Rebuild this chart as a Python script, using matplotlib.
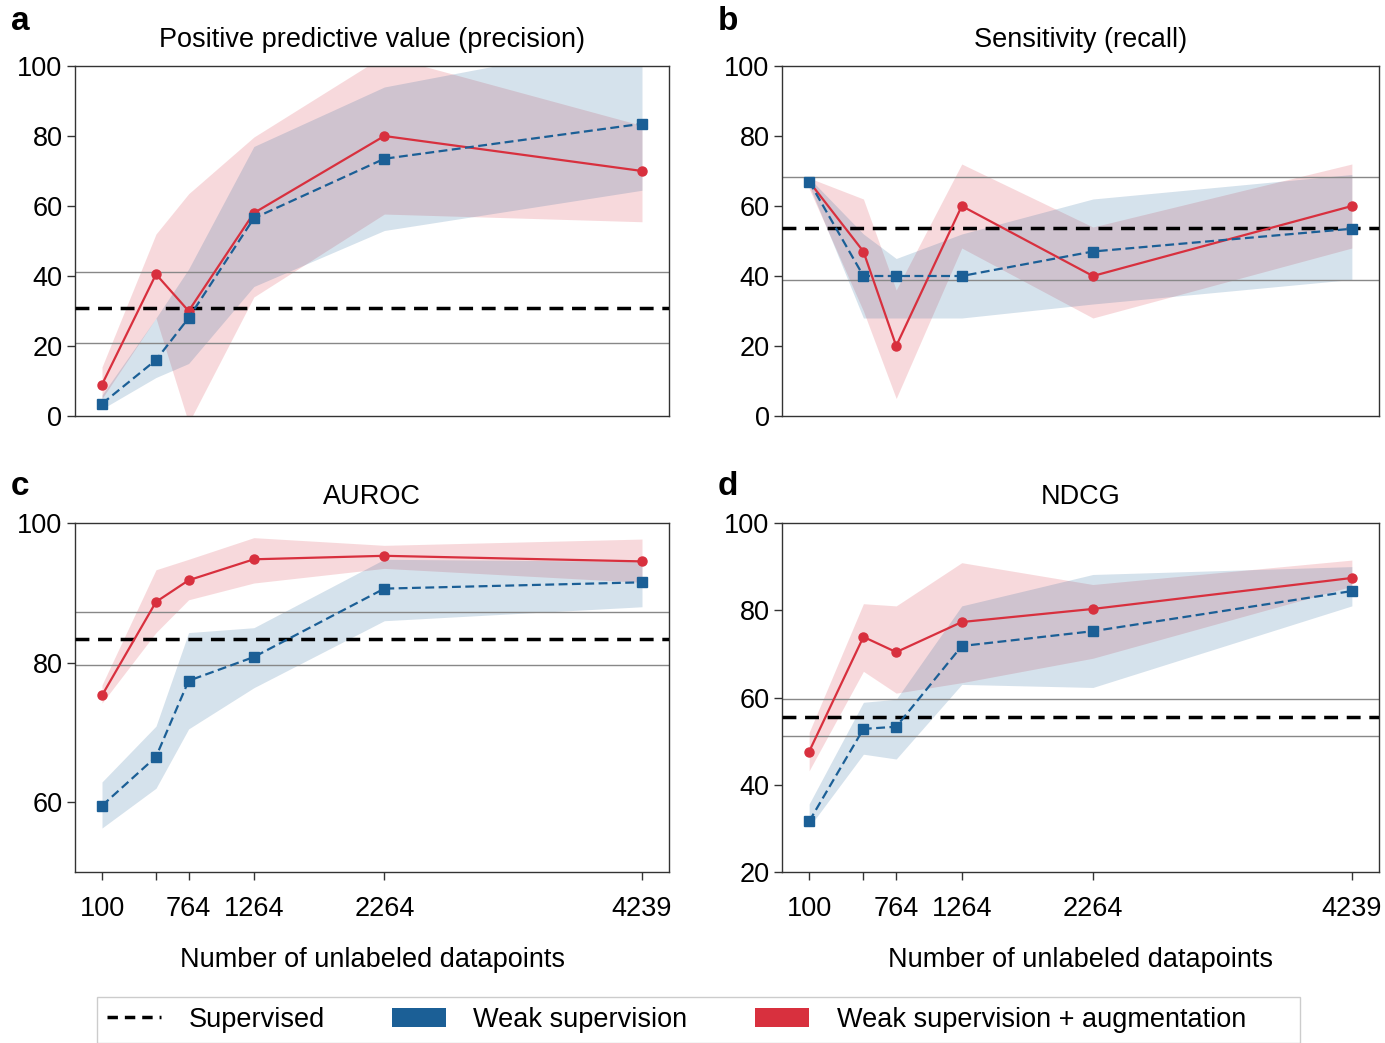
import matplotlib
matplotlib.use("Agg")
import matplotlib.pyplot as plt
from matplotlib.lines import Line2D
from matplotlib.patches import Patch, Rectangle

plt.rcParams['font.family'] = ['Liberation Sans', 'DejaVu Sans']

x_vals = [100, 514, 764, 1264, 2264, 4239]
x_tick_labels = ['100', '', '764', '1264', '2264', '4239']

titles = ['Positive predictive value (precision)', 'Sensitivity (recall)', 'AUROC', 'NDCG']
letters = ['a', 'b', 'c', 'd']

# Weak supervision (blue)
ws_ppv = [3.5, 16, 28, 56.5, 73.5, 83.5]
ws_ppv_lo = [2, 11, 15, 37, 53, 64.5]
ws_ppv_hi = [6, 28, 42, 77, 94, 108]
ws_sens = [67, 40, 40, 40, 47, 53.5]
ws_sens_lo = [66, 28, 28, 28, 32, 39]
ws_sens_hi = [68, 52, 45, 52, 62, 69]
ws_auroc = [59.5, 66.5, 77.4, 80.8, 90.6, 91.5]
ws_auroc_lo = [56.3, 62, 70.5, 76.4, 86, 88]
ws_auroc_hi = [62.9, 70.9, 84.3, 85, 94.8, 94.5]
ws_ndcg = [31.6, 52.8, 53.3, 71.8, 75.2, 84.4]
ws_ndcg_lo = [30.3, 47, 45.9, 63, 62.3, 81]
ws_ndcg_hi = [35.6, 58.9, 59.6, 81, 88.2, 90]

# Weak supervision + augmentation (red)
wsa_ppv = [9, 40.5, 30, 58, 80, 70]
wsa_ppv_lo = [5, 28, -2, 34, 57.7, 55.5]
wsa_ppv_hi = [14, 52, 63.5, 79.7, 103, 83]
wsa_sens = [67, 47, 20, 60, 40, 60]
wsa_sens_lo = [65, 30, 5, 48, 28, 48]
wsa_sens_hi = [68, 62, 36, 72, 54, 72]
wsa_auroc = [75.3, 88.7, 91.8, 94.8, 95.3, 94.5]
wsa_auroc_lo = [74.2, 84.3, 89, 91.4, 93.5, 91.5]
wsa_auroc_hi = [76.8, 93.3, 94.8, 97.9, 96.8, 97.7]
wsa_ndcg = [47.6, 73.9, 70.4, 77.3, 80.3, 87.4]
wsa_ndcg_lo = [43.2, 66, 61, 63.4, 69, 85.5]
wsa_ndcg_hi = [52, 81.5, 81, 90.9, 85.9, 91.5]

# Supervised baseline: mean and +/- band
sup_mean = [30.9, 53.6, 83.45, 55.5]
sup_lo = [20.9, 38.9, 79.6, 51.2]
sup_hi = [41.1, 68.3, 87.3, 59.7]

ylims = [(0, 100), (0, 100), (50, 100), (20, 100)]
yticks = [[0, 20, 40, 60, 80, 100], [0, 20, 40, 60, 80, 100], [60, 80, 100], [20, 40, 60, 80, 100]]

ws = [(ws_ppv, ws_ppv_lo, ws_ppv_hi), (ws_sens, ws_sens_lo, ws_sens_hi),
      (ws_auroc, ws_auroc_lo, ws_auroc_hi), (ws_ndcg, ws_ndcg_lo, ws_ndcg_hi)]
wsa = [(wsa_ppv, wsa_ppv_lo, wsa_ppv_hi), (wsa_sens, wsa_sens_lo, wsa_sens_hi),
       (wsa_auroc, wsa_auroc_lo, wsa_auroc_hi), (wsa_ndcg, wsa_ndcg_lo, wsa_ndcg_hi)]

BLUE = '#1b5f96'
RED = '#d8303e'
SPINE = '#333333'
FS = 19.5

fig = plt.figure(figsize=(13.85, 10.43), dpi=100)
W, H = 1385, 1043
boxes = [(75, 66, 669, 416), (782, 66, 1379, 416), (75, 523, 669, 872), (782, 523, 1379, 872)]
letter_pos = [(11, 21), (718, 21), (11, 487), (718, 487)]

for i in range(4):
    l, t, r, b = boxes[i]
    ax = fig.add_axes([l / W, 1 - b / H, (r - l) / W, (b - t) / H])
    m, lo, hi = ws[i]
    mr, lor, hir = wsa[i]
    ax.fill_between(x_vals, lor, hir, color=RED, alpha=0.18, linewidth=0)
    ax.fill_between(x_vals, lo, hi, color=BLUE, alpha=0.18, linewidth=0)
    ax.axhline(sup_hi[i], color='#888888', lw=1.0, zorder=1)
    ax.axhline(sup_lo[i], color='#888888', lw=1.0, zorder=1)
    ax.axhline(sup_mean[i], color='black', lw=2.5, ls=(0, (4, 2.5)), zorder=4)
    ax.plot(x_vals, mr, color=RED, lw=1.6, marker='o', ms=6.5, zorder=5)
    ax.plot(x_vals, m, color=BLUE, lw=1.6, ls=(0, (4, 2)), marker='s', ms=6.5, zorder=6)
    ax.set_ylim(*ylims[i])
    ax.set_yticks(yticks[i])
    ax.set_xlim(x_vals[0] - 0.05 * (x_vals[-1] - x_vals[0]), x_vals[-1] + 0.05 * (x_vals[-1] - x_vals[0]))
    ax.tick_params(axis='y', labelsize=FS, length=6, width=1, color=SPINE, pad=3)
    if i < 2:
        ax.set_xticks([])
    else:
        ax.set_xticks(x_vals)
        ax.set_xticklabels(x_tick_labels)
        ax.tick_params(axis='x', labelsize=FS, length=6, width=1, color=SPINE, pad=11)
        ax.set_xlabel('Number of unlabeled datapoints', fontsize=FS, labelpad=18)
    for s in ax.spines.values():
        s.set_color(SPINE)
        s.set_linewidth(1.0)
    ax.set_title(titles[i], fontsize=FS, pad=14)
    fig.text(letter_pos[i][0] / W, 1 - letter_pos[i][1] / H, letters[i], fontsize=24,
             fontweight='bold', ha='left', va='center')

# legend frame
fig.patches.append(Rectangle((97 / W, 0), (1300 - 97) / W, 1 - 997 / H, transform=fig.transFigure,
                             facecolor='white', edgecolor='#cccccc', linewidth=1.0, zorder=0))

handles = [Line2D([0], [0], color='black', lw=2.5, ls=(0, (3, 2))),
           Patch(facecolor=BLUE, edgecolor='none'),
           Patch(facecolor=RED, edgecolor='none')]
labels = ['Supervised', 'Weak supervision', 'Weak supervision + augmentation']
leg = fig.legend(handles, labels, loc='center left', bbox_to_anchor=(107 / W, 1 - 1020 / H),
                 ncol=3, fontsize=FS, frameon=False,
                 handlelength=2.0, handleheight=0.75, columnspacing=2.5, handletextpad=1.0,
                 borderpad=0, borderaxespad=0)

fig.savefig('out.png', dpi=100)
